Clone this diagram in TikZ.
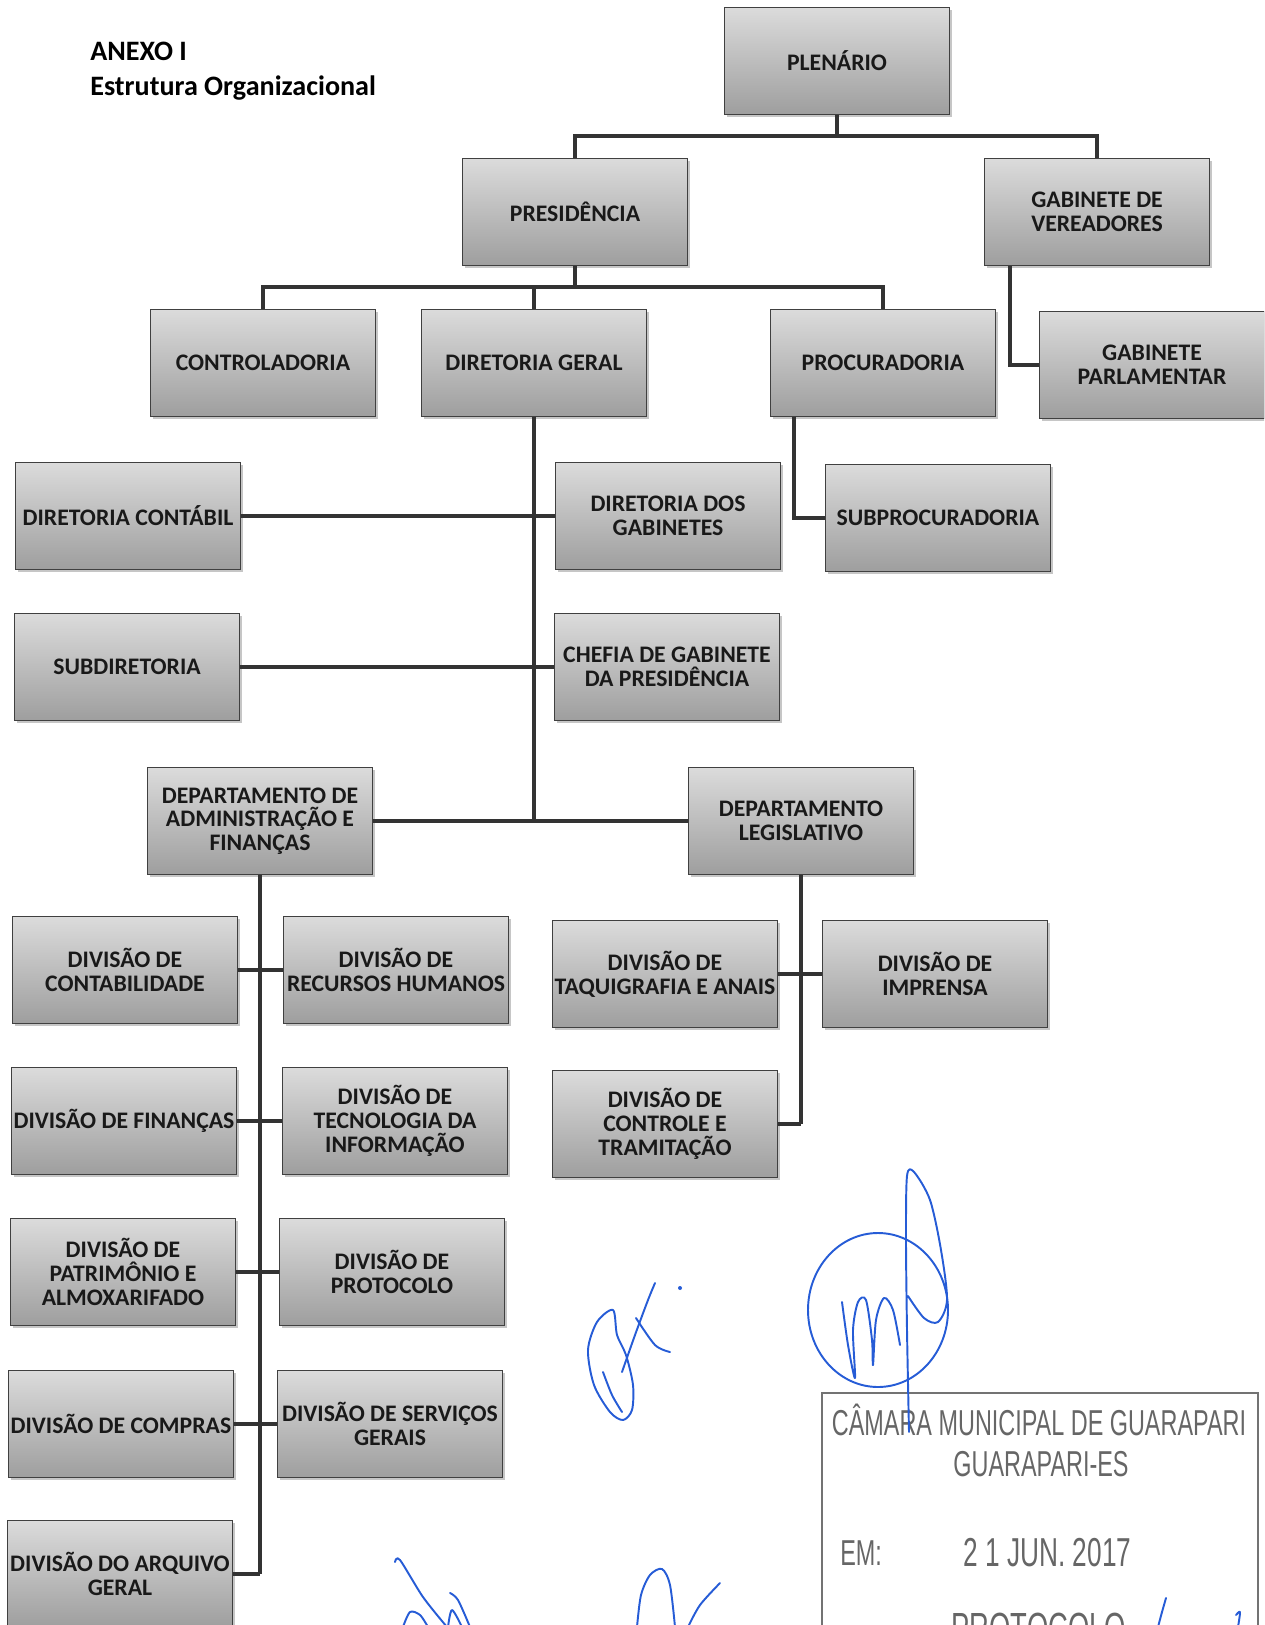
\documentclass[tikz,border=0pt]{standalone}
\usepackage{fontspec}
\setmainfont{Carlito}
\newfontfamily\stampfont[FakeStretch=0.65]{Liberation Sans}
\usetikzlibrary{shadows}
\definecolor{sigblue}{RGB}{38,92,214}

\begin{document}
\begin{tikzpicture}[x=0.02cm,y=-0.02cm,
	caixa/.style={draw=black!75, line width=0.6pt, top color=black!14, bottom color=black!38,
		drop shadow={shadow xshift=1.5pt, shadow yshift=-1.5pt, opacity=0.45},
		minimum width=4.5cm, minimum height=2.14cm, align=center, inner sep=1pt,
		font=\bfseries\fontsize{13.5}{13.5}\selectfont, text=black!90},
	liga/.style={line width=2.3pt, draw=black!80},
	assin/.style={draw=sigblue, line width=1.1pt, line cap=round, line join=round},
	carimbo/.style={text=black!60, font=\stampfont\fontsize{20.5}{22}\selectfont, inner sep=0pt}]
	\useasboundingbox (0,0) rectangle (1264,1625);
	\clip (0,0) rectangle (1264,1625);
	\node[anchor=north west, inner sep=0pt, align=left, font=\bfseries\fontsize{16}{19.5}\selectfont] (titulo) at (90,42) {ANEXO I\\Estrutura Organizacional};
	\node[caixa] (plen) at (837,61) {PLENÁRIO};
	\node[caixa] (pres) at (575,212) {PRESIDÊNCIA};
	\node[caixa] (gabver) at (1097,212) {GABINETE DE\\VEREADORES};
	\node[caixa] (contr) at (263,363) {CONTROLADORIA};
	\node[caixa] (dirger) at (534,363) {DIRETORIA GERAL};
	\node[caixa] (procur) at (883,363) {PROCURADORIA};
	\node[caixa] (gabparl) at (1152,365) {GABINETE\\PARLAMENTAR};
	\node[caixa] (dircont) at (128,516) {DIRETORIA CONTÁBIL};
	\node[caixa] (dirgab) at (668,516) {DIRETORIA DOS\\GABINETES};
	\node[caixa] (subproc) at (938,518) {SUBPROCURADORIA};
	\node[caixa] (subdir) at (127,667) {SUBDIRETORIA};
	\node[caixa] (chefia) at (667,667) {CHEFIA DE GABINETE\\DA PRESIDÊNCIA};
	\node[caixa] (depadm) at (260,821) {DEPARTAMENTO DE\\ADMINISTRAÇÃO E\\FINANÇAS};
	\node[caixa] (depleg) at (801,821) {DEPARTAMENTO\\LEGISLATIVO};
	\node[caixa] (divcont) at (125,970) {DIVISÃO DE\\CONTABILIDADE};
	\node[caixa] (divrh) at (396,970) {DIVISÃO DE\\RECURSOS HUMANOS};
	\node[caixa] (divtaq) at (665,974) {DIVISÃO DE\\TAQUIGRAFIA E ANAIS};
	\node[caixa] (divimp) at (935,974) {DIVISÃO DE\\IMPRENSA};
	\node[caixa] (divfin) at (124,1121) {DIVISÃO DE FINANÇAS};
	\node[caixa] (divti) at (395,1121) {DIVISÃO DE\\TECNOLOGIA DA\\INFORMAÇÃO};
	\node[caixa] (divctrl) at (665,1124) {DIVISÃO DE\\CONTROLE E\\TRAMITAÇÃO};
	\node[caixa] (divpat) at (123,1272) {DIVISÃO DE\\PATRIMÔNIO E\\ALMOXARIFADO};
	\node[caixa] (divprot) at (392,1272) {DIVISÃO DE\\PROTOCOLO};
	\node[caixa] (divcomp) at (121,1424) {DIVISÃO DE COMPRAS};
	\node[caixa] (divserv) at (390,1424) {DIVISÃO DE SERVIÇOS\\GERAIS};
	\node[caixa] (divarq) at (120,1574) {DIVISÃO DO ARQUIVO\\GERAL};
	\path[liga] (plen.south) -- ++(0,21) -| (pres.north);
	\path[liga] (plen.south) -- ++(0,21) -| (gabver.north);
	\path[liga] (pres.south) -- ++(0,21) -| (contr.north);
	\path[liga] (pres.south) -- ++(0,21) -| (dirger.north);
	\path[liga] (pres.south) -- ++(0,21) -| (procur.north);
	\path[liga] ([xshift=-1.74cm]gabver.south) |- (gabparl.west);
	\path[liga] ([xshift=-1.78cm]procur.south) |- (subproc.west);
	\path[liga] (dirger.south) -- (dirger.south |- depadm.east);
	\path[liga] (dircont.east) -- (dirgab.west);
	\path[liga] (subdir.east) -- (chefia.west);
	\path[liga] (depadm.east) -- (depleg.west);
	\path[liga] (depadm.south) -- (depadm.south |- divarq.east);
	\path[liga] (divcont.east) -- (divrh.west);
	\path[liga] (divfin.east) -- (divti.west);
	\path[liga] (divpat.east) -- (divprot.west);
	\path[liga] (divcomp.east) -- (divserv.west);
	\path[liga] (divarq.east) -- (depadm.south |- divarq.east);
	\path[liga] (depleg.south) -- (depleg.south |- divctrl.east);
	\path[liga] (divtaq.east) -- (divimp.west);
	\path[liga] (divctrl.east) -- (depleg.south |- divctrl.east);
	\draw[black!55, line width=1.4pt] (822,1393) rectangle (1258,1650);
	\node[carimbo, anchor=base] (camara) at (1039,1435) {CÂMARA MUNICIPAL DE GUARAPARI};
	\node[carimbo, anchor=base] (cidade) at (1041,1476) {GUARAPARI-ES};
	\node[carimbo, anchor=base west] (em) at (840,1565) {EM:};
	\node[carimbo, anchor=base west, font=\stampfont\fontsize{23}{24}\selectfont] (data) at (963,1566) {2 1 JUN. 2017};
	\node[carimbo, anchor=base west, font=\stampfont\fontsize{24}{26}\selectfont] (protoc) at (951,1642) {PROTOCOLO};
	\draw[assin] (878,1310) ellipse [x radius=70, y radius=77];
	\draw[assin] plot[smooth] coordinates {(909,1432) (907,1330) (906,1240) (907,1176) (914,1172) (930,1200) (941,1250) (947,1300) (938,1322) (924,1318) (908,1296)};
	\draw[assin] plot[smooth] coordinates {(842,1302) (848,1345) (855,1378) (853,1330) (858,1302) (866,1300) (872,1340) (873,1365) (876,1320) (884,1298) (893,1310) (900,1345)};
	\draw[assin] plot[smooth cycle] coordinates {(613,1310) (597,1322) (588,1350) (594,1385) (610,1412) (623,1420) (632,1410) (633,1385) (626,1355) (617,1335)};
	\draw[assin] plot[smooth] coordinates {(603,1372) (612,1395) (622,1412)};
	\draw[assin] plot[smooth] coordinates {(622,1372) (635,1335) (648,1300) (655,1283)};
	\draw[assin] plot[smooth] coordinates {(636,1318) (655,1345) (670,1352)};
	\fill[sigblue] (680,1288) circle [radius=2];
	\draw[assin] plot[smooth] coordinates {(395,1562) (400,1560) (423,1597) (447,1627)};
	\draw[assin] plot[smooth] coordinates {(403,1627) (410,1612) (420,1615) (428,1627)};
	\draw[assin] plot[smooth] coordinates {(450,1593) (458,1600) (470,1627)};
	\draw[assin] plot[smooth] coordinates {(448,1627) (452,1610) (462,1627)};
	\draw[assin] plot[smooth] coordinates {(637,1627) (641,1595) (650,1575) (662,1569) (670,1585) (675,1627)};
	\draw[assin] plot[smooth] coordinates {(720,1583) (700,1605) (688,1627)};
	\draw[assin] plot[smooth] coordinates {(1166,1598) (1162,1612) (1158,1627)};
	\draw[assin] plot[smooth] coordinates {(1236,1615) (1240,1612) (1238,1627)};
\end{tikzpicture}
\end{document}
